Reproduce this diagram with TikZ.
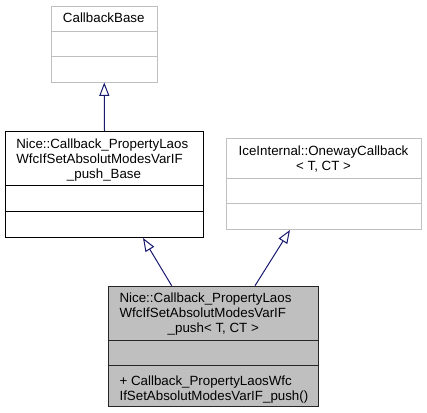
\documentclass[tikz,border=0pt]{standalone}
\usepackage{fontspec}
\setmainfont{Liberation Sans}
\usetikzlibrary{arrows.meta,calc}
\definecolor{lgray}{HTML}{BFBFBF}
\definecolor{fillgray}{HTML}{BFBFBF}
\definecolor{edgeblue}{HTML}{191970}
\begin{document}
\begin{tikzpicture}[x=0.75pt,y=-0.75pt,
  box/.style={draw, line width=0.75pt, anchor=north west, inner sep=0pt, fill=white},
  dim/.style={box, draw=lgray},
  dark/.style={box, draw=black!85, fill=fillgray},
  txt/.style={inner sep=0pt, font=\fontsize{10}{11.25}\selectfont},
  inh/.style={draw=edgeblue, line width=0.75pt, -{Triangle[open, length=10pt, width=7.5pt, fill=white]}}]
\useasboundingbox (0,0) rectangle (427,412);

% CallbackBase
\node[dim, minimum width=79.9pt, minimum height=57pt] (cb) at (50.5,5.5) {};
\draw[lgray, line width=0.75pt] (50.5,31.7) -- (157,31.7) (50.5,56.7) -- (157,56.7);
\node[txt, anchor=base] (cbt) at (103.75,22.5) {CallbackBase};

% Base
\node[box, minimum width=148.5pt, minimum height=79.5pt] (base) at (5,131) {};
\draw[line width=0.75pt] (5,185.7) -- (203,185.7) (5,211) -- (203,211);
\node[txt, anchor=base west] (bt1) at (16,148) {Nice::Callback\_PropertyLaos};
\node[txt, anchor=base west] (bt2) at (16,163) {WfcIfSetAbsolutModesVarIF};
\node[txt, anchor=base] (bt3) at (104,178) {\_push\_Base};

% OnewayCallback
\node[dim, minimum width=146.25pt, minimum height=68pt] (ow) at (226,138.3) {};
\draw[lgray, line width=0.75pt] (226,178.3) -- (421,178.3) (226,203.7) -- (421,203.7);
\node[txt, anchor=base] (ot1) at (323.5,155) {IceInternal::OnewayCallback};
\node[txt, anchor=base] (ot2) at (323.5,170) {< T, CT >};

% Bottom class
\node[dark, minimum width=157.5pt, minimum height=90pt] (cls) at (108.3,285.7) {};
\draw[black!85, line width=0.75pt] (108.3,340.7) -- (318.3,340.7) (108.3,365.7) -- (318.3,365.7);
\node[txt, anchor=base west] (ct1) at (119.3,302.5) {Nice::Callback\_PropertyLaos};
\node[txt, anchor=base west] (ct2) at (119.3,317.5) {WfcIfSetAbsolutModesVarIF};
\node[txt, anchor=base] (ct3) at (213.3,332.5) {\_push< T, CT >};
\node[txt, anchor=base west] (cm1) at (119.3,385.5) {+ Callback\_PropertyLaosWfc};
\node[txt, anchor=base west] (cm2) at (119.3,400) {IfSetAbsolutModesVarIF\_push()};

% connectors
\path (cls.north west) ++(63.4,0) coordinate (c1);
\path (cls.north west) ++(146.7,0) coordinate (c2);
\path (base.south west) ++(138,0) coordinate (b1);
\path (ow.south west) ++(64,0) coordinate (o1);
\draw[inh] (base.north) -- (cb.south);
\draw[inh] (c1) -- (b1);
\draw[inh] (c2) -- (o1);
\end{tikzpicture}
\end{document}
